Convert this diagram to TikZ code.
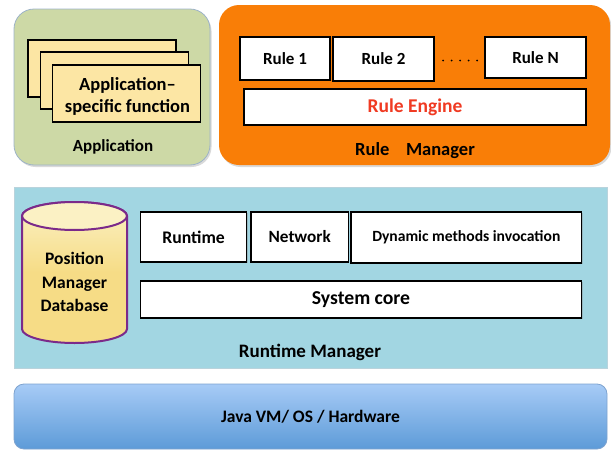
\documentclass[tikz,border=0pt]{standalone}
\usepackage{fontspec}
\setmainfont{Carlito}
\usetikzlibrary{shadows}
\definecolor{appfill}{HTML}{CDD9A6}
\definecolor{appline}{HTML}{9DB3C8}
\definecolor{pagefill}{HTML}{FCE6A4}
\definecolor{rulefill}{HTML}{F97E07}
\definecolor{rtfill}{HTML}{A2D6E2}
\definecolor{rtline}{HTML}{B9D3DC}
\definecolor{dbline}{HTML}{7B2A8A}
\definecolor{dbtop}{HTML}{FBF1C4}
\definecolor{dbbody}{HTML}{F6DC86}
\definecolor{enginered}{HTML}{F03A22}
\definecolor{javatop}{HTML}{A7CBF6}
\definecolor{javabot}{HTML}{5D9BD8}
\definecolor{javaline}{HTML}{7EA3CF}
\tikzset{
  panel/.style={rounded corners=20pt, inner sep=0pt},
  whitebox/.style={draw=black, line width=1.6pt, fill=white, inner sep=0pt,
     font=\bfseries\fontsize{17}{20}\selectfont,
     drop shadow={opacity=0.35, shadow xshift=1pt, shadow yshift=-1.2pt}},
  pagebox/.style={draw=black, line width=1.6pt, fill=pagefill, inner sep=0pt},
  plabel/.style={font=\bfseries\fontsize{18}{21}\selectfont, inner sep=0pt},
}
\begin{document}
\begin{tikzpicture}[x=1pt,y=1pt]
\useasboundingbox (0,0) rectangle (611,-450);
% Application panel
\node[panel, fill=appfill, draw=appline, line width=0.8pt, minimum width=196pt, minimum height=156pt,
  drop shadow={opacity=0.3, shadow xshift=1.5pt, shadow yshift=-2pt}] (app) at (112,-87) {};
\node[pagebox, minimum width=148pt, minimum height=57pt] (page1) at (102,-68.5) {};
\node[pagebox, minimum width=148pt, minimum height=57pt] (page2) at (114.5,-80.5) {};
\node[pagebox, minimum width=148pt, minimum height=57pt] (page3) at (126.5,-93.5) {};
\node[align=center, inner sep=0pt, font=\bfseries\fontsize{18.5}{22}\selectfont] (apptext) at (127.5,-96) {Application--\\specific function};
\node[plabel, font=\bfseries\fontsize{17}{20}\selectfont] (applabel) at (113,-147) {Application};
% Rule manager panel
\node[panel, fill=rulefill, minimum width=391pt, minimum height=160pt,
  drop shadow={opacity=0.3, shadow xshift=1.5pt, shadow yshift=-2pt}] (rm) at (414.5,-85) {};
\node[whitebox, minimum width=90pt, minimum height=43pt] (rule1) at (285,-58.5) {Rule 1};
\node[whitebox, minimum width=101pt, minimum height=44pt] (rule2) at (383.5,-59) {Rule 2};
\node[whitebox, minimum width=101pt, minimum height=41pt] (ruleN) at (535.5,-57.5) {Rule N};
\foreach \i in {0,...,4} \fill (443+8.5*\i,-60.5) circle (1pt);
\node[whitebox, minimum width=342pt, minimum height=36pt, text=enginered,
  font=\bfseries\fontsize{19.5}{22}\selectfont] (engine) at (415,-107) {Rule Engine};
\node[plabel, font=\bfseries\fontsize{18.5}{21}\selectfont] (rmlabel) at (415,-151) {Rule\hspace{0.9em}Manager};
% Runtime manager panel
\node[fill=rtfill, draw=rtline, line width=0.8pt, minimum width=593pt, minimum height=181pt, inner sep=0pt] (rtm) at (310.5,-277.5) {};
% database cylinder
\shade[top color=dbtop, bottom color=dbbody, middle color=dbbody]
  (22,-216) -- (22,-329) arc (180:360:52.5pt and 14pt) -- (127,-216) arc (0:180:52.5pt and 14pt) -- cycle;
\draw[dbline, line width=2pt]
  (22,-216) -- (22,-329) arc (180:360:52.5pt and 14pt) -- (127,-216) arc (0:180:52.5pt and 14pt) -- cycle;
\draw[dbline, line width=2pt, fill=dbtop] (74.5,-216) ellipse (52.5pt and 14pt);
\node[align=center, font=\bfseries\fontsize{17.5}{23.5}\selectfont, inner sep=0pt] (db) at (74.5,-282) {Position\\Manager\\Database};
\node[whitebox, minimum width=106pt, minimum height=50pt, font=\bfseries\fontsize{17.7}{20}\selectfont] (runtime) at (193.6,-237) {Runtime};
\node[whitebox, minimum width=97.5pt, minimum height=50pt, font=\bfseries\fontsize{17.2}{20}\selectfont] (network) at (299.7,-237) {Network};
\node[whitebox, minimum width=230.6pt, minimum height=51pt, font=\bfseries\fontsize{15.6}{18}\selectfont] (dyn) at (466.3,-237.5) {Dynamic methods invocation};
\node[whitebox, minimum width=441pt, minimum height=37pt, font=\bfseries\fontsize{19.7}{22}\selectfont] (core) at (361,-299.5) {System core};
\node[plabel, font=\bfseries\fontsize{19}{22}\selectfont] (rtlabel) at (310,-352) {Runtime Manager};
% Java VM layer
\node[rounded corners=10pt, top color=javatop, bottom color=javabot, draw=javaline, line width=0.8pt,
  minimum width=593pt, minimum height=65pt, inner sep=0pt,
  font=\bfseries\fontsize{17.5}{20}\selectfont] (java) at (310.5,-416.5) {Java VM/ OS / Hardware};
\end{tikzpicture}
\end{document}
